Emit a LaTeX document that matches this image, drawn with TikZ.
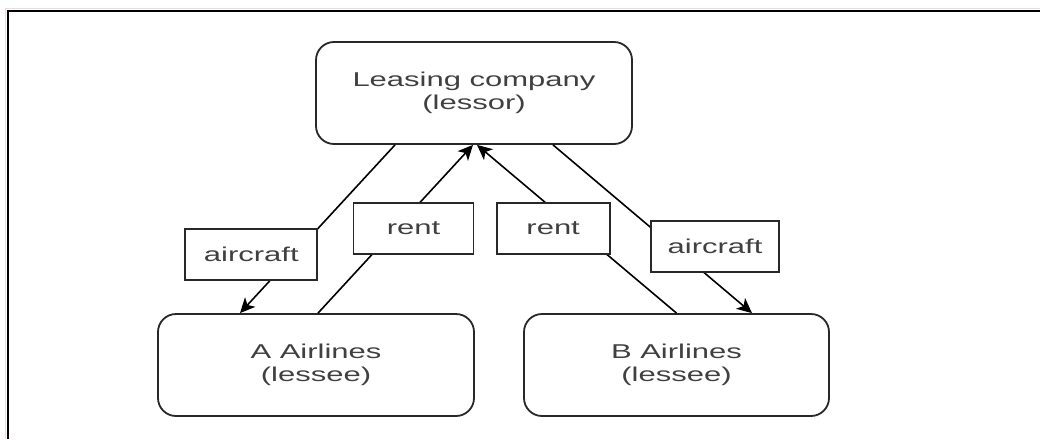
\documentclass[tikz,border=0pt]{standalone}
\usepackage{fontspec}
\setmainfont{Liberation Sans}[FakeStretch=1.55]
\usetikzlibrary{arrows.meta, positioning}
\definecolor{leaseInk}{RGB}{64,64,64}
\definecolor{leaseEdge}{RGB}{40,40,40}
\definecolor{leasePink}{RGB}{240,216,232}

\begin{document}
\begin{tikzpicture}[x=1pt, y=-1pt,
      party/.style={rounded corners=18pt, draw=leaseEdge, line width=1.8pt, minimum width=316pt,
      minimum height=102pt, inner sep=0pt, align=center, font=\fontsize{20}{23}\selectfont, text=leaseInk},
      labelbox/.style={draw=leaseEdge, line width=1.8pt, fill=white, minimum height=51pt, inner sep=0pt,
      font=\fontsize{20}{23}\selectfont, text=leaseInk},
      flow/.style={line width=1.6pt, -{Stealth[length=15pt, width=14pt, inset=4pt]}}
    ]
    \useasboundingbox (0,0) rectangle (1040,439);
    \draw[leasePink, line width=1pt] (5,439) -- (5,8) -- (1040,8);
    \draw[line width=2pt] (7.5,439) -- (7.5,10.5) -- (1040,10.5);

    \node[party] (lessor) at (474,93) {Leasing company\\(lessor)};
    \node[party] (airA) at (316,365) {A Airlines\\(lessee)};
    \node[party, minimum width=305pt] (airB) at (676.5,365) {B Airlines\\(lessee)};

    \draw[flow] ([xshift=-79pt]lessor.south) -- node[labelbox, minimum width=132pt, pos=0.65, xshift=-43pt] (leaseA) {aircraft}
      ([xshift=-76pt]airA.north);
    \draw[flow] ([xshift=2pt]airA.north) -- node[labelbox, minimum width=120pt, pos=0.503, xshift=17.5pt] (rentA) {rent}
      ([xshift=-1pt]lessor.south);
    \draw[flow] (airB.north) -- node[labelbox, minimum width=113pt, pos=0.503, xshift=-23pt] (rentB) {rent}
      ([xshift=3pt]lessor.south);
    \draw[flow] ([xshift=79pt]lessor.south) -- node[labelbox, minimum width=128pt, pos=0.603, xshift=42pt] (leaseB) {aircraft}
      ([xshift=75.5pt]airB.north);
  \end{tikzpicture}
\end{document}
